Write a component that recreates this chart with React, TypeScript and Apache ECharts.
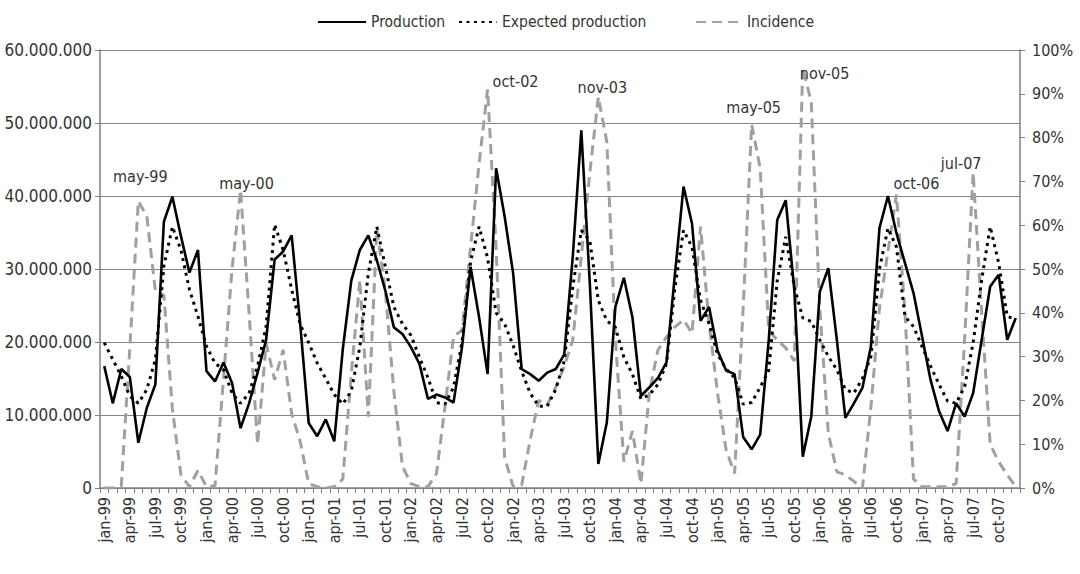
import React, { useEffect, useRef } from "react";
import * as echarts from "echarts";

const months = ["jan", "feb", "mar", "apr", "may", "jun", "jul", "aug", "sep", "oct", "nov", "dec"];
const years = ["99", "00", "01", "02", "03", "04", "05", "06", "07"];
const categories = years.flatMap((y) => months.map((m) => `${m}-${y}`));

// tick labels every 3 months, as printed in the reference (incl. its "jan-02" repeat)
const tickLabels = [
  "jan-99", "apr-99", "jul-99", "oct-99", "jan-00", "apr-00", "jul-00", "oct-00",
  "jan-01", "apr-01", "jul-01", "oct-01", "jan-02", "apr-02", "jul-02", "oct-02",
  "jan-02", "apr-03", "jul-03", "oct-03", "jan-04", "apr-04", "jul-04", "oct-04",
  "jan-05", "apr-05", "jul-05", "oct-05", "jan-06", "apr-06", "jul-06", "oct-06",
  "jan-07", "apr-07", "jul-07", "oct-07",
];

// millions
const production = [
  16.7, 11.6, 16.3, 15.2, 6.2, 11.0, 14.2, 36.5, 39.9, 34.5, 29.5, 32.6,
  16.0, 14.6, 17.2, 14.4, 8.2, 11.6, 15.8, 20.3, 31.3, 32.4, 34.6, 22.5,
  8.9, 7.1, 9.4, 6.4, 19.0, 28.4, 32.6, 34.6, 31.2, 27.0, 22.0, 21.1,
  19.3, 17.0, 12.2, 12.8, 12.4, 11.7, 19.3, 30.3, 23.4, 15.6, 43.8, 37.2,
  29.4, 16.3, 15.6, 14.7, 15.8, 16.3, 18.3, 31.7, 49.0, 28.0, 3.3, 9.0,
  24.8, 28.8, 23.4, 12.6, 13.8, 15.1, 17.2, 29.4, 41.3, 36.2, 22.9, 24.8,
  18.8, 16.1, 15.6, 7.0, 5.3, 7.3, 20.2, 36.7, 39.4, 27.2, 4.3, 9.8,
  26.9, 30.1, 20.3, 9.6, 11.6, 13.7, 19.4, 35.6, 40.0, 34.9, 30.8, 26.7,
  20.8, 14.8, 10.5, 7.8, 11.6, 9.8, 13.0, 20.3, 27.6, 29.2, 20.3, 23.3,
];

const expectedProduction = [
  19.9, 17.6, 15.3, 12.6, 11.6, 13.5, 17.6, 30.4, 35.8, 32.6, 27.2, 23.5,
  19.4, 17.1, 16.2, 13.0, 11.6, 13.0, 16.7, 22.1, 36.1, 32.6, 27.2, 22.4,
  19.9, 17.1, 15.0, 12.8, 11.5, 13.3, 19.3, 29.4, 35.8, 30.3, 24.8, 22.5,
  20.9, 17.9, 15.1, 11.7, 11.5, 13.8, 20.0, 31.0, 35.8, 31.5, 24.0, 22.5,
  19.5, 16.0, 13.0, 11.2, 11.2, 13.5, 17.4, 27.5, 35.3, 33.9, 25.7, 22.9,
  22.0, 17.9, 15.6, 12.2, 12.8, 14.2, 17.0, 27.5, 35.3, 33.0, 25.7, 22.5,
  18.3, 16.3, 15.1, 11.5, 11.7, 13.8, 16.1, 28.4, 34.4, 27.6, 23.3, 22.8,
  20.3, 18.0, 16.2, 13.5, 13.0, 15.0, 18.0, 30.0, 35.6, 33.0, 23.5, 22.1,
  19.4, 16.7, 14.2, 11.9, 11.6, 13.9, 19.9, 28.5, 35.8, 30.8, 23.5, 23.1,
];

// percent
const incidence = [
  0, 0, 0.5, 32, 65.5, 62, 45, 44, 18, 3, 0.3, 4,
  0.3, 0.5, 25, 50, 68, 40, 10, 33, 24.7, 31.5, 17, 10.6,
  1, 0.3, 0, 0.3, 2, 26, 47.5, 16.3, 59, 45, 22, 5,
  1, 0.3, 0.3, 3.3, 18.6, 34.6, 36, 55, 74, 91, 55, 7,
  0.3, 0.7, 11, 20, 19, 23, 27.7, 33.8, 52.8, 72, 89.3, 79,
  34, 6, 13, 1, 22, 31.5, 34.5, 36.8, 38.4, 35.3, 59.7, 37.6,
  21.6, 8.7, 3.3, 41, 83, 73, 36, 33.8, 32, 29, 96, 88,
  41, 12.5, 3.7, 3, 1.5, 0, 18.6, 41, 54, 67, 40, 2,
  0.3, 0.3, 0.3, 0.3, 1, 34, 72, 40, 10, 6, 3, 0.3,
];

const peakLabels = [
  { index: 4, text: "may-99", position: "top", offset: [2, -14] },
  { index: 16, text: "may-00", position: "top", offset: [6, 4] },
  { index: 45, text: "oct-02", position: "right", offset: [2, -8] },
  { index: 58, text: "nov-03", position: "top", offset: [4, 2] },
  { index: 76, text: "may-05", position: "top", offset: [2, -6] },
  { index: 82, text: "nov-05", position: "right", offset: [-6, 6] },
  { index: 93, text: "oct-06", position: "top", offset: [20, 0] },
  { index: 102, text: "jul-07", position: "top", offset: [-12, 2] },
];

const FONT = "'DejaVu Sans Condensed', 'DejaVu Sans', sans-serif";
const TEXT = "#333333";

export default function App() {
  const ref = useRef<HTMLDivElement>(null);

  useEffect(() => {
    if (!ref.current) return;
    const chart = echarts.init(ref.current, null, { renderer: "svg" });

    const fmtMillions = (v: number) => {
      const n = Math.round(v * 1e6);
      return n === 0 ? "0" : n.toString().replace(/\B(?=(\d{3})+(?!\d))/g, ".");
    };

    const legendBase = {
      top: 9,
      itemHeight: 12,
      itemStyle: { opacity: 0 },
      textStyle: { fontFamily: FONT, fontSize: 15.5, color: TEXT },
    };

    chart.setOption({
      animation: false,
      backgroundColor: "#ffffff",
      textStyle: { fontFamily: FONT },
      legend: [
        { ...legendBase, left: 312, itemWidth: 48, itemGap: 4, data: ["Production"] },
        { ...legendBase, left: 453, itemWidth: 38, data: ["Expected production"] },
        { ...legendBase, left: 690, itemWidth: 46, data: ["Incidence"] },
      ],
      grid: { left: 100, right: 60, top: 50, bottom: 86, containLabel: false },
      xAxis: {
        type: "category",
        data: categories,
        boundaryGap: true,
        axisLine: { show: true, lineStyle: { color: "#808080", width: 1.5 } },
        axisTick: { show: true, interval: 0, length: 5, lineStyle: { color: "#808080" } },
        axisLabel: {
          interval: 0,
          rotate: 90,
          fontFamily: FONT,
          fontSize: 16,
          color: TEXT,
          margin: 9,
          formatter: (_v: string, idx: number) => (idx % 3 === 0 ? tickLabels[idx / 3] : ""),
        },
        splitLine: { show: false },
      },
      yAxis: [
        {
          type: "value",
          min: 0,
          max: 60,
          interval: 10,
          axisLine: { show: true, lineStyle: { color: "#808080", width: 1.5 } },
          axisTick: { show: true, length: 5, lineStyle: { color: "#808080" } },
          axisLabel: { fontFamily: FONT, fontSize: 17, color: TEXT, margin: 8, formatter: fmtMillions },
          splitLine: { show: true, lineStyle: { color: "#858585", width: 1 } },
        },
        {
          type: "value",
          min: 0,
          max: 100,
          interval: 10,
          position: "right",
          axisLine: { show: true, lineStyle: { color: "#808080", width: 1.5 } },
          axisTick: { show: true, length: 5, lineStyle: { color: "#808080" } },
          axisLabel: { fontFamily: FONT, fontSize: 16, color: TEXT, margin: 12, formatter: (v: number) => `${v}%` },
          splitLine: { show: false },
        },
      ],
      series: [
        {
          name: "Production",
          type: "line",
          data: production,
          yAxisIndex: 0,
          symbol: "none",
          z: 4,
          lineStyle: { color: "#000000", width: 2.6, type: "solid" },
          itemStyle: { color: "#000000" },
        },
        {
          name: "Expected production",
          type: "line",
          data: expectedProduction,
          yAxisIndex: 0,
          symbol: "none",
          z: 3,
          lineStyle: { color: "#000000", width: 3, type: [3, 4.5], cap: "butt" },
          itemStyle: { color: "#000000" },
        },
        {
          name: "Incidence",
          type: "line",
          data: incidence,
          yAxisIndex: 1,
          symbol: "none",
          z: 2,
          lineStyle: { color: "#a0a0a0", width: 3, type: [10, 6], cap: "butt" },
          itemStyle: { color: "#a0a0a0" },
          markPoint: {
            symbol: "circle",
            symbolSize: 0,
            silent: true,
            data: peakLabels.map((p) => ({
              coord: [categories[p.index], incidence[p.index]],
              label: {
                show: true,
                formatter: p.text,
                position: p.position,
                offset: p.offset,
                distance: 3,
                fontFamily: FONT,
                fontSize: 16,
                color: TEXT,
              },
            })),
          },
        },
      ],
    });

    return () => chart.dispose();
  }, []);

  return (
    <div
      ref={ref}
      style={{ position: "absolute", left: 0, top: 0, width: 1080, height: 574, background: "#fff" }}
    />
  );
}
